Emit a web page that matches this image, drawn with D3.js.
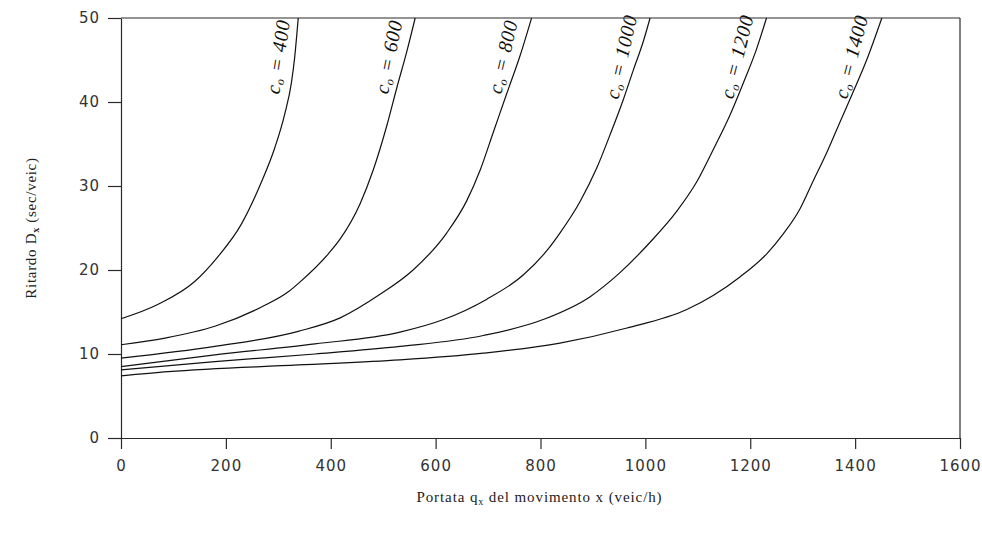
<!DOCTYPE html>
<html>
<head>
<meta charset="utf-8">
<script src="https://cdn.jsdelivr.net/npm/d3@7/dist/d3.min.js"></script>
<style>
  html, body { margin: 0; padding: 0; background: #fff; }
  svg { display: block; }
</style>
</head>
<body>
<svg id="chart" width="982" height="536"></svg>
<script>
// ---- data ----
const capacities = [400, 600, 800, 1000, 1200, 1400];
const xTicks = [0, 200, 400, 600, 800, 1000, 1200, 1400, 1600];
const yTicks = [0, 10, 20, 30, 40, 50];

// [flow q (veic/h), delay D (sec/veic)]
const curve400 = [[0,14.2],[70,15.9],[140,18.6],[185,21.6],[229,25.4],[268,30.5],[293,34.5],[312,38.5],[325,42.3],[331,45.2],[338,50]];
const curve600 = [[0,11.1],[84,11.9],[179,13.3],[268,15.6],[319,17.4],[340,18.5],[395,21.9],[418,23.7],[456,27.9],[481,31.9],[507,37.2],[526,41.7],[545,46.0],[561,50]];
const curve800 = [[0,9.5],[179,10.9],[338,12.7],[418,14.3],[494,17.1],[557,20.0],[621,24.4],[659,28.2],[685,31.9],[710,36.4],[735,40.9],[761,45.5],[783,50]];
const curve1000 = [[0,8.5],[179,9.9],[370,11.2],[532,12.6],[615,14.1],[697,16.5],[767,19.4],[812,22.3],[837,24.4],[875,28.1],[907,32.1],[932,36.0],[958,40.3],[977,43.8],[996,47.2],[1009,50]];
const curve1200 = [[0,8.1],[179,9.1],[370,10.0],[532,10.9],[691,12.2],[805,14.1],[894,16.8],[950,19.6],[1009,23.3],[1060,27.0],[1098,30.5],[1130,34.4],[1161,38.4],[1187,42.3],[1212,46.3],[1231,50]];
const curve1400 = [[0,7.4],[90,7.9],[338,8.7],[532,9.3],[691,10.1],[837,11.3],[965,13.1],[1079,15.3],[1130,17.0],[1181,19.2],[1231,21.9],[1263,24.3],[1295,27.3],[1320,30.6],[1346,34.0],[1371,37.6],[1397,41.3],[1422,45.0],[1451,50]];

const curves = [curve400, curve600, curve800, curve1000, curve1200, curve1400];
const labelDelay = 45.4; // where the curve labels sit

// ---- layout ----
const svg = d3.select("#chart");
const margin = { left: 121, top: 18, right: 22, bottom: 98 };
const W = 982, H = 536;
const x = d3.scaleLinear().domain([0, 1600]).range([margin.left, W - margin.right]);
const y = d3.scaleLinear().domain([0, 50]).range([H - margin.bottom, margin.top]);

const axisColor = "#2a2a2a";
const tickFont = "'DejaVu Sans', sans-serif";
const serif = "'Liberation Serif', 'Times New Roman', serif";

// x axis
const gx = svg.append("g")
  .attr("transform", `translate(0,${y(0)})`)
  .call(d3.axisBottom(x).tickValues(xTicks).tickFormat(d3.format("d")).tickSize(11).tickSizeOuter(0).tickPadding(11));
// y axis
const gy = svg.append("g")
  .attr("transform", `translate(${x(0)},0)`)
  .call(d3.axisLeft(y).tickValues(yTicks).tickFormat(d3.format("d")).tickSize(13).tickSizeOuter(0).tickPadding(8));

[gx, gy].forEach(g => {
  g.select(".domain").attr("stroke", axisColor).attr("stroke-width", 1.2);
  g.selectAll(".tick line").attr("stroke", axisColor).attr("stroke-width", 1.2);
  g.selectAll(".tick text")
    .attr("fill", "#333")
    .style("font-family", tickFont)
    .style("font-size", "15px")
    .style("letter-spacing", "1px");
});

// frame (top & right)
svg.append("line")
  .attr("x1", x(0)).attr("x2", x(1600)).attr("y1", y(50)).attr("y2", y(50))
  .attr("stroke", axisColor).attr("stroke-width", 1.2);
svg.append("line")
  .attr("x1", x(1600)).attr("x2", x(1600)).attr("y1", y(50)).attr("y2", y(0))
  .attr("stroke", axisColor).attr("stroke-width", 1.2);

// curves
const line = d3.line()
  .x(d => x(d[0]))
  .y(d => y(d[1]))
  .curve(d3.curveMonotoneX);

svg.append("g").selectAll("path")
  .data(curves)
  .join("path")
  .attr("d", line)
  .attr("fill", "none")
  .attr("stroke", "#111")
  .attr("stroke-width", 1.2);

// helper: flow at a given delay (linear interpolation along the curve)
function flowAt(c, D) {
  for (let i = 1; i < c.length; i++) {
    if (c[i][1] >= D) {
      const [q0, d0] = c[i - 1], [q1, d1] = c[i];
      return q0 + (q1 - q0) * (D - d0) / (d1 - d0);
    }
  }
  return c[c.length - 1][0];
}

// curve labels
capacities.forEach((cap, i) => {
  const c = curves[i];
  const qa = flowAt(c, 37), qb = flowAt(c, 50);
  const dxp = x(qb) - x(qa), dyp = y(37) - y(50);
  const curveTilt = Math.atan2(dxp, dyp) * 180 / Math.PI;
  const tilt = 4 + 0.48 * curveTilt;
  const px = x(flowAt(c, labelDelay)) - 17;
  const py = y(labelDelay);
  const t = svg.append("text")
    .attr("transform", `translate(${px},${py}) rotate(${-90 + tilt})`)
    .attr("text-anchor", "middle")
    .attr("dy", "0.35em")
    .style("font-family", serif)
    .style("font-style", "italic")
    .style("font-size", "20px")
    .style("letter-spacing", "0.8px")
    .attr("fill", "#111");
  t.append("tspan").text("c");
  t.append("tspan").attr("dy", "3").style("font-size", "12px").text("o");
  t.append("tspan").attr("dy", "-3").text(" = " + cap);
});

// axis titles
const xt = svg.append("text")
  .attr("x", (x(0) + x(1600)) / 2 - 1)
  .attr("y", 502)
  .attr("text-anchor", "middle")
  .style("font-family", serif)
  .style("font-size", "15px")
  .style("letter-spacing", "0.9px")
  .attr("fill", "#222");
xt.append("tspan").text("Portata q");
xt.append("tspan").attr("dy", "3").style("font-size", "10px").text("x");
xt.append("tspan").attr("dy", "-3").text(" del movimento x (veic/h)");

const yt = svg.append("text")
  .attr("transform", `translate(36,${(y(0) + y(50)) / 2}) rotate(-90)`)
  .attr("text-anchor", "middle")
  .style("font-family", serif)
  .style("font-size", "15px")
  .style("letter-spacing", "0.7px")
  .attr("fill", "#222");
yt.append("tspan").text("Ritardo D");
yt.append("tspan").attr("dy", "3").style("font-size", "10px").style("font-weight", "bold").text("x");
yt.append("tspan").attr("dy", "-3").text(" (sec/veic)");
</script>
</body>
</html>
